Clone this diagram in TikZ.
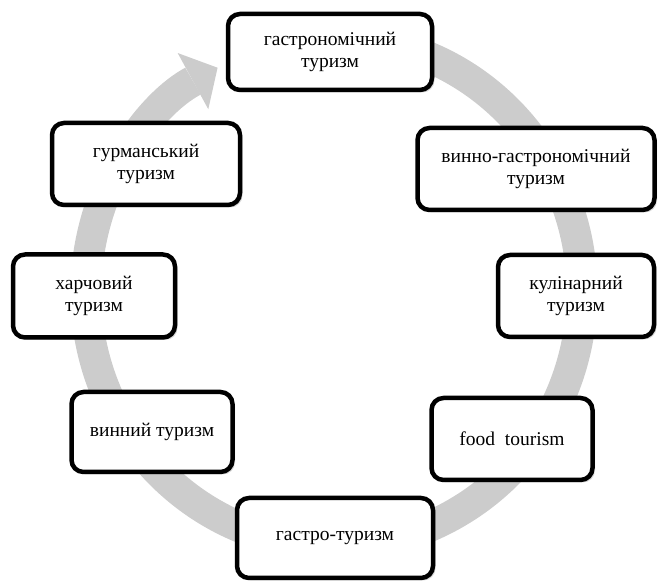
\documentclass[tikz,border=0pt]{standalone}
\usepackage{fontspec}
\setmainfont{Liberation Serif}
\usepackage{tikz}
\usetikzlibrary{arrows.meta}
\usetikzlibrary{shadows}

\begin{document}
\begin{tikzpicture}[x=1pt,y=1pt]
  \tikzset{myring/.style={line width=31pt, draw=black!20, -{Triangle[width=64pt,length=28pt,line width=0pt]}}};
  \tikzset{mybox/.style={draw=black, line width=4.5pt, rounded corners=12pt, fill=white, align=center, inner sep=0pt,
      font=\fontsize{19.5}{22}\selectfont, drop shadow={opacity=0.3, shadow xshift=2.5pt, shadow yshift=-2.5pt}}};
  \useasboundingbox (0,0) rectangle (659,581);

  \coordinate (c) at (334,289);
  % the grey ring, under the boxes
  \draw [myring] ([shift={(80:248pt and 254pt)}]c) arc [start angle=80, end angle=-242, x radius=248pt, y radius=254pt];

  \node[mybox, minimum width=204pt, minimum height=76pt] (gastr) at (330,529) {гастрономічний\\туризм};
  \node[mybox, minimum width=237pt, minimum height=82pt] (vino) at (536,412) {винно-гастрономічний\\туризм};
  \node[mybox, minimum width=156pt, minimum height=82pt] (kulin) at (576,285) {кулінарний\\туризм};
  \node[mybox, minimum width=161pt, minimum height=82pt] (food) at (512,142) {food\ \ tourism};
  \node[mybox, minimum width=196pt, minimum height=80pt] (gastro) at (335,43) {гастро-туризм};
  \node[mybox, minimum width=161pt, minimum height=80pt] (vyn) at (152,149) {винний туризм};
  \node[mybox, minimum width=162pt, minimum height=83pt] (kharch) at (94,285) {харчовий\\туризм};
  \node[mybox, minimum width=188pt, minimum height=82pt] (gurm) at (146,417) {гурманський\\туризм};
%  \draw [myring] (gurm) -- (gastr);
\end{tikzpicture}
\end{document}
